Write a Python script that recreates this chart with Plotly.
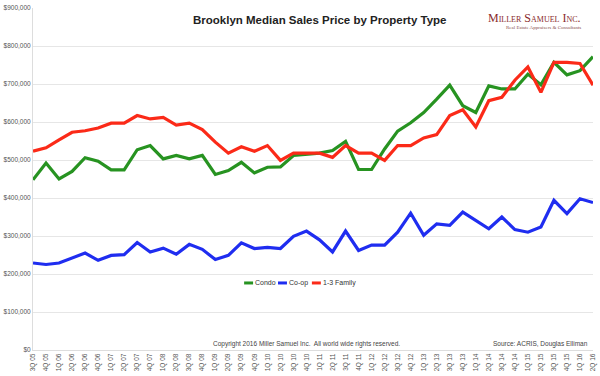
import plotly.graph_objects as go

quarters = ["3Q 05", "4Q 05",
            "1Q 06", "2Q 06", "3Q 06", "4Q 06",
            "1Q 07", "2Q 07", "3Q 07", "4Q 07",
            "1Q 08", "2Q 08", "3Q 08", "4Q 08",
            "1Q 09", "2Q 09", "3Q 09", "4Q 09",
            "1Q 10", "2Q 10", "3Q 10", "4Q 10",
            "1Q 11", "2Q 11", "3Q 11", "4Q 11",
            "1Q 12", "2Q 12", "3Q 12", "4Q 12",
            "1Q 13", "2Q 13", "3Q 13", "4Q 13",
            "1Q 14", "2Q 14", "3Q 14", "4Q 14",
            "1Q 15", "2Q 15", "3Q 15", "4Q 15",
            "1Q 16", "2Q 16"]

condo = [448000, 492000, 450000, 470000, 506000, 497000, 474000, 474000, 527000, 538000,
         503000, 512000, 503000, 512000, 462000, 472000, 494000, 466000, 481000, 482000,
         512000, 516000, 518000, 525000, 549000, 475000, 475000, 529000, 576000, 598000,
         625000, 660000, 697000, 643000, 625000, 695000, 687000, 687000, 726000, 698000,
         757000, 724000, 735000, 772000]

coop = [229000, 225000, 229000, 242000, 255000, 236000, 249000, 251000, 283000, 258000,
        268000, 252000, 278000, 265000, 238000, 249000, 282000, 267000, 270000, 267000,
        299000, 313000, 290000, 258000, 313000, 262000, 276000, 276000, 310000, 360000,
        302000, 332000, 328000, 363000, 341000, 319000, 350000, 317000, 310000, 324000,
        394000, 359000, 398000, 388000]

family = [523000, 532000, 553000, 573000, 577000, 584000, 597000, 597000, 617000, 608000,
          612000, 592000, 597000, 580000, 547000, 518000, 535000, 523000, 538000, 499000,
          518000, 518000, 518000, 507000, 538000, 518000, 518000, 499000, 538000, 538000,
          558000, 567000, 617000, 632000, 587000, 656000, 665000, 710000, 745000, 678000,
          757000, 757000, 754000, 697000]

series_names = ["Condo", "Co-op", "1-3 Family"]
series_colors = ["#279321", "#1f2df0", "#fb2a18"]

y_ticks = [0, 100000, 200000, 300000, 400000, 500000, 600000, 700000, 800000, 900000]
y_tick_labels = ["$0", "$100,000", "$200,000", "$300,000", "$400,000",
                 "$500,000", "$600,000", "$700,000", "$800,000", "$900,000"]

fig = go.Figure()
for name, vals, col in zip(series_names, [condo, coop, family], series_colors):
    fig.add_trace(go.Scatter(x=quarters, y=vals, mode="lines", name=name,
                             line=dict(color=col, width=3.2)))

fig.update_layout(
    width=600, height=376,
    margin=dict(l=33, r=7, t=8, b=26),
    paper_bgcolor="white", plot_bgcolor="white",
    font=dict(family="Liberation Sans, Arial, sans-serif", color="#444"),
    showlegend=False,
)
fig.update_xaxes(type="category", tickangle=-90, tickfont=dict(size=6.5, color="#555"),
                 showgrid=False, showline=True, linecolor="#ddd", linewidth=1,
                 ticks="", automargin=False)
fig.update_yaxes(range=[0, 900000], tickvals=y_ticks, ticktext=y_tick_labels,
                 tickfont=dict(size=6.5, color="#555"), showgrid=True, gridcolor="#e6e6e6",
                 gridwidth=1, showline=True, linecolor="#ddd", linewidth=1,
                 zeroline=False, ticks="", automargin=False)

# manual compact legend (short line sample followed by label)
legend_x = [0.377, 0.4375, 0.498]  # paper x of sample start
legend_y = 0.196
for name, col, lx in zip(series_names, series_colors, legend_x):
    fig.add_shape(type="line", xref="paper", yref="paper",
                  x0=lx, x1=lx + 0.016, y0=legend_y, y1=legend_y,
                  line=dict(color=col, width=3))
    fig.add_annotation(text=name, xref="paper", yref="paper", x=lx + 0.016, y=legend_y,
                       showarrow=False, xanchor="left", yanchor="middle",
                       font=dict(size=7, color="#333"))

fig.add_annotation(text="<b>Brooklyn Median Sales Price by Property Type</b>",
                   xref="paper", yref="paper", x=0.513, y=0.966, showarrow=False,
                   xanchor="center", yanchor="middle",
                   font=dict(size=11.5, color="#222", family="Liberation Sans, Arial, sans-serif"))
fig.add_annotation(text="Miller Samuel Inc.",
                   xref="paper", yref="paper", x=0.982, y=0.972, showarrow=False,
                   xanchor="right", yanchor="middle",
                   font=dict(size=12, color="#8a2b2b", family="Liberation Serif, Times New Roman, serif",
                             variant="small-caps"))
fig.add_annotation(text="Real Estate Appraisers & Consultants",
                   xref="paper", yref="paper", x=0.982, y=0.942, showarrow=False,
                   xanchor="right", yanchor="middle",
                   font=dict(size=5, color="#8a5050", family="Liberation Serif, Times New Roman, serif"))
fig.add_annotation(text="Copyright 2016 Miller Samuel Inc.  All world wide rights reserved.",
                   xref="paper", yref="paper", x=0.4875, y=0.018, showarrow=False,
                   xanchor="center", yanchor="middle",
                   font=dict(size=6.5, color="#444"))
fig.add_annotation(text="Source: ACRIS, Douglas Elliman",
                   xref="paper", yref="paper", x=0.995, y=0.018, showarrow=False,
                   xanchor="right", yanchor="middle",
                   font=dict(size=6.5, color="#444"))

fig.write_html("out.html", config={"displayModeBar": False},
               post_script="document.body.style.margin='0';document.body.style.overflow='hidden';")
